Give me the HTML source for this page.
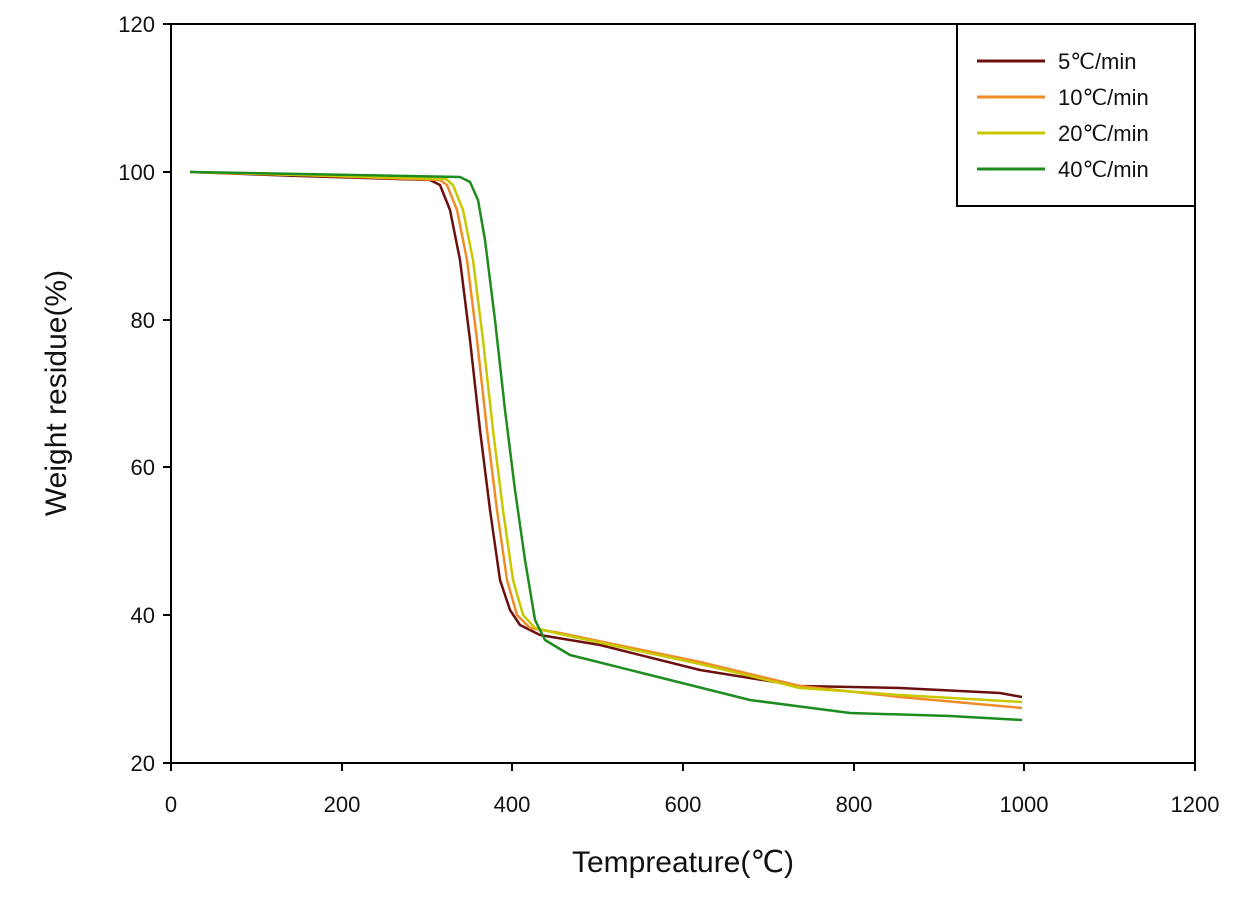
<!DOCTYPE html>
<html><head><style>body{margin:0;background:#fff}</style></head><body>
<svg width="1260" height="917" xmlns="http://www.w3.org/2000/svg" font-family="Liberation Sans, sans-serif">
<rect width="1260" height="917" fill="#fff"/>
<g fill="none" stroke-width="2.5" stroke-linejoin="round">
<path stroke="#6b0f0f" d="M190,172 L300,176 L430,180 L440,185 L450,210 L460,260 L470,340 L480,430 L490,510 L500,580 L510,610 L520,625 L540,635 L600,645 L700,670 L800,686 L900,688 L1000,693 L1022,697"/>
<path stroke="#f08c28" d="M190,172 L300,175 L440,180 L447,185 L457,210 L467,260 L477,340 L487,430 L497,510 L507,580 L517,615 L530,628 L560,633 L700,662 L800,686 L900,697 L1022,708"/>
<path stroke="#c8c800" d="M190,172 L300,175 L446,179 L453,185 L463,210 L473,260 L483,340 L493,430 L503,510 L513,580 L523,615 L535,628 L560,634 L700,664 L800,688 L900,695 L1022,702"/>
<path stroke="#1e8c1e" d="M190,172 L300,174 L460,177 L470,182 L478,200 L485,240 L495,320 L505,410 L515,490 L525,560 L535,620 L545,640 L570,655 L650,675 L750,700 L850,713 L950,716 L1022,720"/>
</g>
<rect x="171" y="24" width="1024" height="739" fill="none" stroke="#000" stroke-width="2"/>
<g stroke="#000" stroke-width="2">
<line x1="171" y1="24" x2="163" y2="24"/><line x1="171" y1="172" x2="163" y2="172"/><line x1="171" y1="320" x2="163" y2="320"/><line x1="171" y1="467" x2="163" y2="467"/><line x1="171" y1="615" x2="163" y2="615"/><line x1="171" y1="763" x2="163" y2="763"/>
<line x1="171" y1="763" x2="171" y2="771"/><line x1="342" y1="763" x2="342" y2="771"/><line x1="512" y1="763" x2="512" y2="771"/><line x1="683" y1="763" x2="683" y2="771"/><line x1="854" y1="763" x2="854" y2="771"/><line x1="1024" y1="763" x2="1024" y2="771"/><line x1="1195" y1="763" x2="1195" y2="771"/>
</g>
<g font-size="22" fill="#111" text-anchor="end">
<text x="155" y="32">120</text><text x="155" y="180">100</text><text x="155" y="328">80</text><text x="155" y="475">60</text><text x="155" y="623">40</text><text x="155" y="771">20</text>
</g>
<g font-size="22" fill="#111" text-anchor="middle">
<text x="171" y="812">0</text><text x="342" y="812">200</text><text x="512" y="812">400</text><text x="683" y="812">600</text><text x="854" y="812">800</text><text x="1024" y="812">1000</text><text x="1195" y="812">1200</text>
</g>
<text x="683" y="872" font-size="30" text-anchor="middle" fill="#111">Tempreature(℃)</text>
<text transform="translate(66,393) rotate(-90)" font-size="30" text-anchor="middle" fill="#111">Weight residue(%)</text>
<rect x="957" y="24" width="238" height="182" fill="#fff" stroke="#000" stroke-width="2"/>
<g stroke-width="3">
<line x1="977" y1="61" x2="1045" y2="61" stroke="#6b0f0f"/>
<line x1="977" y1="97" x2="1045" y2="97" stroke="#f08c28"/>
<line x1="977" y1="133" x2="1045" y2="133" stroke="#c8c800"/>
<line x1="977" y1="169" x2="1045" y2="169" stroke="#1e8c1e"/>
</g>
<g font-size="22" fill="#111">
<text x="1058" y="69">5℃/min</text><text x="1058" y="105">10℃/min</text><text x="1058" y="141">20℃/min</text><text x="1058" y="177">40℃/min</text>
</g>
</svg>
</body></html>
